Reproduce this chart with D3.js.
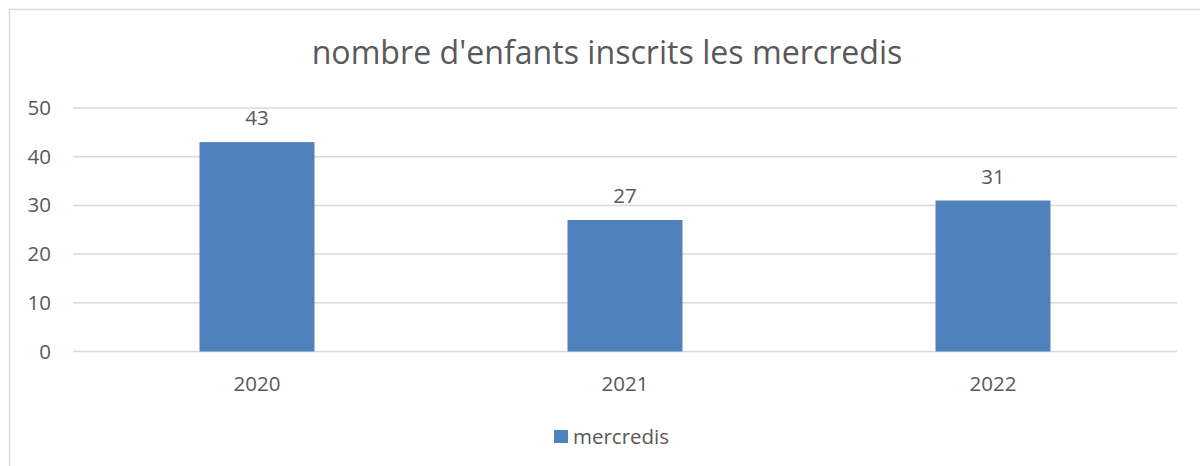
<!DOCTYPE html>
<html>
<head>
<meta charset="utf-8">
<script src="https://cdn.jsdelivr.net/npm/d3@7/dist/d3.min.js"></script>
<style>
  html, body { margin: 0; padding: 0; background: #fff; }
  svg { display: block; }
  text { font-family: "Open Sans", "Noto Sans", sans-serif; fill: #595959; }
</style>
</head>
<body>
<svg id="chart" width="1200" height="466"></svg>
<script>
const title = "nombre d'enfants inscrits les mercredis";
const categories = ["2020", "2021", "2022"];
const seriesName = "mercredis";
const values = [43, 27, 31];
const yTicks = [0, 10, 20, 30, 40, 50];

const W = 1200, H = 466;
const FS = 20.5;
const svg = d3.select("#chart");

// outer chart frame
svg.append("rect")
  .attr("x", 9.5).attr("y", 9.5)
  .attr("width", W + 20).attr("height", H + 20)
  .attr("fill", "#fff")
  .attr("stroke", "#d9d9d9").attr("stroke-width", 1.5);

const plot = { left: 73, right: 1177, top: 108, bottom: 351.5 };

const x = d3.scaleBand()
  .domain(categories)
  .range([plot.left, plot.right])
  .paddingInner(0.6875)
  .paddingOuter(0.34375);

const y = d3.scaleLinear().domain([0, 50]).range([plot.bottom, plot.top]);

// gridlines
svg.append("g")
  .selectAll("line")
  .data(yTicks)
  .join("line")
  .attr("x1", plot.left).attr("x2", plot.right)
  .attr("y1", d => y(d)).attr("y2", d => y(d))
  .attr("stroke", "#d9d9d9").attr("stroke-width", 1.5);

// y axis labels
const yAxis = d3.axisLeft(y).tickValues(yTicks).tickSize(0).tickPadding(0);
const gy = svg.append("g").attr("transform", `translate(${51},0)`).call(yAxis);
gy.select(".domain").remove();
gy.selectAll("text")
  .attr("font-size", FS)
  .attr("font-family", "'Open Sans', sans-serif")
  .attr("fill", "#595959");

// bars
svg.append("g")
  .selectAll("rect")
  .data(values)
  .join("rect")
  .attr("x", (d, i) => x(categories[i]))
  .attr("y", d => y(d))
  .attr("width", x.bandwidth())
  .attr("height", d => y(0) - y(d))
  .attr("fill", "#4f81bd");

// data labels
svg.append("g")
  .selectAll("text")
  .data(values)
  .join("text")
  .attr("x", (d, i) => x(categories[i]) + x.bandwidth() / 2)
  .attr("y", d => y(d) - 17)
  .attr("text-anchor", "middle")
  .attr("font-size", FS)
  .text(d => d);

// x axis labels
const xAxis = d3.axisBottom(x).tickSize(0).tickPadding(0);
const gx = svg.append("g").attr("transform", `translate(0,${plot.bottom})`).call(xAxis);
gx.select(".domain").remove();
gx.selectAll("text")
  .attr("dy", null)
  .attr("y", 39)
  .attr("font-size", FS)
  .attr("font-family", "'Open Sans', sans-serif")
  .attr("fill", "#595959");

// title
const t = svg.append("text")
  .attr("x", 607).attr("y", 64)
  .attr("text-anchor", "middle")
  .attr("font-size", 28)
  .text(title);
const tw = t.node().getComputedTextLength();
t.attr("font-size", 28 * 591 / tw);

// legend
const lg = svg.append("g");
lg.append("rect")
  .attr("x", 554).attr("y", 430)
  .attr("width", 14).attr("height", 13)
  .attr("fill", "#4f81bd");
lg.append("text")
  .attr("x", 573).attr("y", 443.5)
  .attr("font-size", FS)
  .text(seriesName);
</script>
</body>
</html>
